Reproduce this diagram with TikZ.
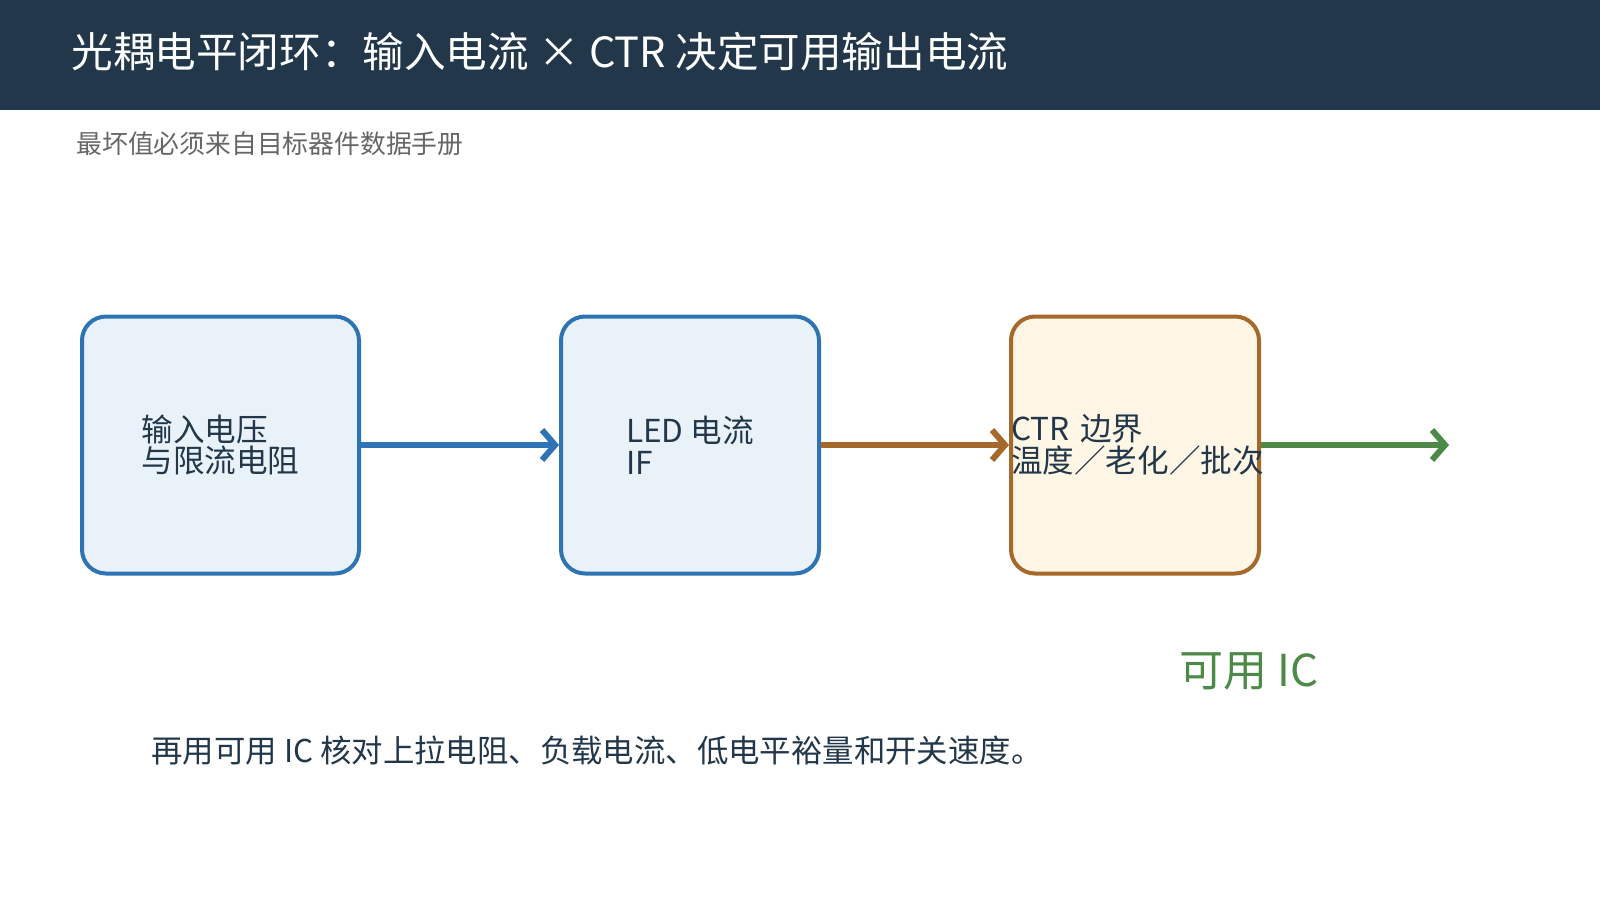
\documentclass[tikz,border=0pt]{standalone}
\usepackage{fontspec}
\setmainfont{Noto Sans CJK SC}
\usetikzlibrary{positioning,arrows.meta}
\usepackage{xcolor}
\definecolor{headbg}{HTML}{22384A}
\definecolor{inkc}{HTML}{22384A}
\definecolor{subgray}{HTML}{666666}
\definecolor{blueline}{HTML}{2E74B5}
\definecolor{bluefill}{HTML}{EAF2F9}
\definecolor{brownline}{HTML}{A5692C}
\definecolor{creamfill}{HTML}{FFF6E5}
\definecolor{greenline}{HTML}{4E8A47}

\begin{document}
\begin{tikzpicture}[x=0.5pt,y=-0.5pt,
  box/.style={draw,line width=2pt,rounded corners=12pt,minimum height=128.5pt,
    inner sep=0pt,align=left,text=inkc,font=\fontsize{15.8pt}{15.8pt}\selectfont},
  bluebox/.style={box,draw=blueline,fill=bluefill},
  ctrbox/.style={box,draw=brownline,fill=creamfill,text width=124pt},
  flow/.style={line width=3pt,-{Straight Barb[length=6.5pt,width=15pt]}}]
\useasboundingbox (0,0) rectangle (1600,900);
\fill[white] (0,0) rectangle (1600,900);
\fill[headbg] (0,0) rectangle (1600,110);
\node[anchor=west,inner sep=0pt,text=white,font=\fontsize{20.8pt}{24pt}\selectfont] (title) at (71,52)
  {光耦电平闭环：输入电流 × CTR 决定可用输出电流};
\node[anchor=west,inner sep=0pt,text=subgray,font=\fontsize{12.9pt}{14pt}\selectfont] (subtitle) at (76,144)
  {最坏值必须来自目标器件数据手册};

% chain of stages
\node[bluebox,minimum width=138.5pt] (vin) at (220.5,445) {输入电压\\与限流电阻};
\node[bluebox,minimum width=129pt,right=99pt of vin] (led) {LED 电流\\IF};
\node[ctrbox,right=94pt of led] (ctr) {CTR 边界\\温度／老化／批次};
\coordinate[right=94pt of ctr] (out);

\draw[flow,blueline] (vin) -- (led);
\draw[flow,brownline] (led) -- (ctr);
\draw[flow,greenline] (ctr) -- (out);

\node[text=greenline,font=\fontsize{22pt}{24pt}\selectfont] (ic) at (1249,671) {可用 IC};
\node[anchor=west,inner sep=0pt,text=inkc,font=\fontsize{15.7pt}{18pt}\selectfont] (note) at (151,751)
  {再用可用 IC 核对上拉电阻、负载电流、低电平裕量和开关速度。};
\end{tikzpicture}
\end{document}
